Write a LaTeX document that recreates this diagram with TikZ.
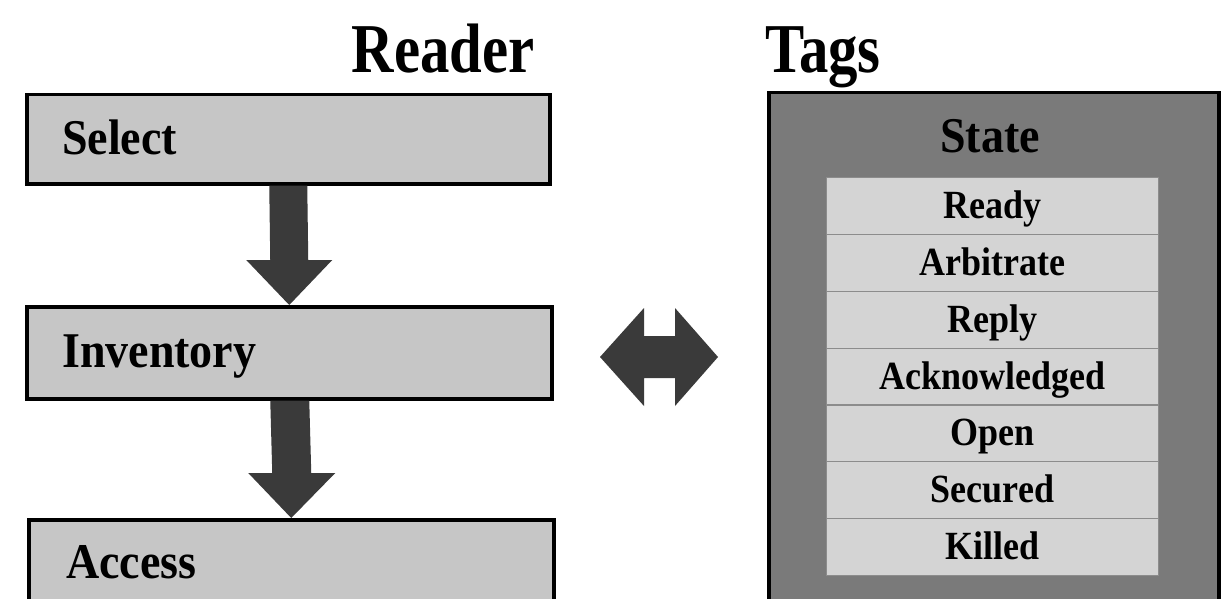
\documentclass[tikz,border=0pt]{standalone}
\usepackage{fontspec}
\setmainfont{Liberation Serif}
\newfontfamily\condfont{Liberation Serif}[FakeStretch=0.92]
\newfontfamily\rowfont{Liberation Serif}[FakeStretch=0.9]
\newfontfamily\titlefont{Liberation Serif}[FakeStretch=0.84]
\usetikzlibrary{calc}
\definecolor{boxgray}{HTML}{C6C6C6}
\definecolor{rowgray}{HTML}{D4D4D4}
\definecolor{outergray}{HTML}{7A7A7A}
\definecolor{arrowgray}{HTML}{3A3A3A}
\definecolor{sepgray}{HTML}{8C8C8C}
\begin{document}
\begin{tikzpicture}[x=1pt,y=-1pt,
  title/.style={font=\titlefont\bfseries\fontsize{70}{70}\selectfont, inner sep=0pt},
  stepbox/.style={draw=black, line width=3.5pt, fill=boxgray, anchor=north west, inner sep=0pt},
  boxlabel/.style={font=\condfont\bfseries\fontsize{50}{50}\selectfont, anchor=base west, inner sep=0pt},
  outerbox/.style={draw=black, line width=3.5pt, fill=outergray, anchor=north west, inner sep=0pt},
  rowbox/.style={fill=rowgray, draw=sepgray, line width=1.2pt, anchor=north west, inner sep=0pt,
    minimum width=332pt, minimum height=56.86pt, text height=31pt, text depth=6pt,
    font=\rowfont\bfseries\fontsize{40}{40}\selectfont},
  statelabel/.style={font=\condfont\bfseries\fontsize{50}{50}\selectfont, anchor=base, inner sep=0pt},
  blockarrow/.style={fill=arrowgray}
]
\clip (0,0) rectangle (1228,599);
\fill[white] (0,0) rectangle (1228,599);

% Titles
\node[title, anchor=base east] (reader) at (535,73) {Reader};
\node[title, anchor=base west] (tags) at (765,73) {Tags};

% Reader steps
\node[stepbox, minimum width=523pt, minimum height=89pt] (sel) at (25,93) {};
\node[stepbox, minimum width=525pt, minimum height=92pt] (inv) at (25,305) {};
\node[stepbox, minimum width=525pt, minimum height=110pt] (acc) at (27,518) {};
\node[boxlabel] (selt) at (62,154) {Select};
\node[boxlabel] (invt) at (62,367) {Inventory};
\node[boxlabel] (acct) at (66,578) {Access};

% Block arrows between steps
\coordinate (h1) at ($(inv.north)+(0,-45)$);
\fill[blockarrow] ($(sel.south)+(-19,0)$) -- ($(sel.south)+(19,0)$) -- ($(h1)+(19,0)$)
  -- ($(h1)+(43,0)$) -- (inv.north) -- ($(h1)+(-43,0)$) -- ($(h1)+(-19,0)$) -- cycle;
\coordinate (h2) at ($(acc.north)+(0,-45)$);
\fill[blockarrow] ($(inv.south)+(-19,0)$) -- ($(inv.south)+(20,0)$) -- ($(h2)+(20,0)$)
  -- ($(h2)+(44,0)$) -- (acc.north) -- ($(h2)+(-43,0)$) -- ($(h2)+(-19,0)$) -- cycle;

% Double arrow
\coordinate (dbl) at (659,357);
\fill[blockarrow] ($(dbl)+(-59,0)$) -- ($(dbl)+(-15,-49)$) -- ($(dbl)+(-15,-21)$)
  -- ($(dbl)+(16,-21)$) -- ($(dbl)+(16,-49)$) -- ($(dbl)+(59,0)$) -- ($(dbl)+(16,49)$)
  -- ($(dbl)+(16,21)$) -- ($(dbl)+(-15,21)$) -- ($(dbl)+(-15,49)$) -- cycle;

% Tags state box
\node[outerbox, minimum width=450pt, minimum height=512pt] (tagbox) at (767,91) {};
\node[statelabel] (state) at (990,152) {State};
\node[rowbox] (r1) at (826,177.00) {Ready};
\node[rowbox] (r2) at (826,233.86) {Arbitrate};
\node[rowbox] (r3) at (826,290.71) {Reply};
\node[rowbox] (r4) at (826,347.57) {Acknowledged};
\node[rowbox] (r5) at (826,404.43) {Open};
\node[rowbox] (r6) at (826,461.29) {Secured};
\node[rowbox] (r7) at (826,518.14) {Killed};
\end{tikzpicture}
\end{document}
